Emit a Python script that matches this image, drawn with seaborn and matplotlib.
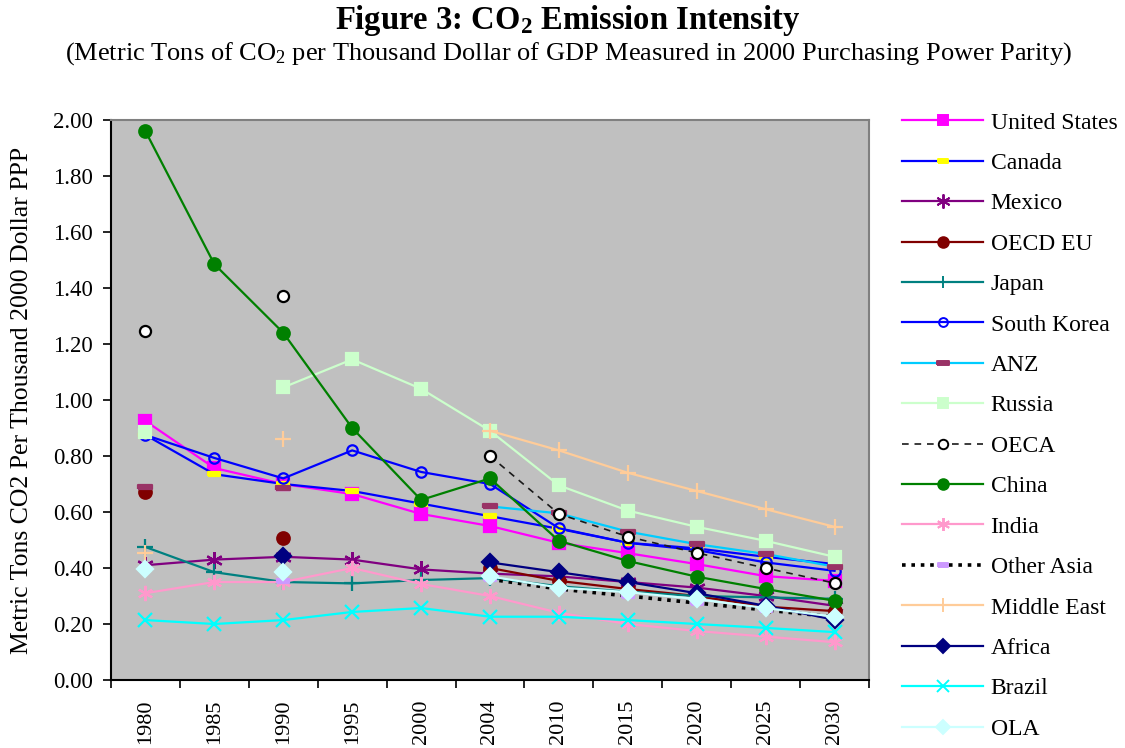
import matplotlib
matplotlib.use("Agg")
import matplotlib.pyplot as plt
import numpy as np
import pandas as pd
import seaborn as sns
from matplotlib.lines import Line2D

nan = np.nan

years = ["1980", "1985", "1990", "1995", "2000", "2004",
         "2010", "2015", "2020", "2025", "2030"]

united_states = [0.925, 0.757, 0.70, 0.664, 0.593, 0.55, 0.49, 0.453, 0.414, 0.371, 0.354]
canada = [0.875, 0.735, 0.70, 0.675, 0.63, 0.585, 0.54, 0.49, 0.47, 0.44, 0.414]
mexico = [0.41, 0.43, 0.44, 0.43, 0.395, 0.38, 0.37, 0.35, 0.33, 0.30, 0.265]
oecd_eu = [0.67, nan, 0.507, nan, nan, 0.40, 0.354, 0.325, 0.30, 0.262, 0.246]
japan = [0.475, 0.385, 0.35, 0.345, 0.357, 0.364, 0.335, 0.315, 0.30, 0.295, 0.29]
south_korea = [0.875, 0.793, 0.72, 0.82, 0.743, 0.70, 0.542, 0.49, 0.464, 0.42, 0.39]
anz = [0.69, nan, 0.685, nan, nan, 0.62, 0.595, 0.53, 0.485, 0.45, 0.405]
russia = [0.886, nan, 1.045, 1.145, 1.04, 0.89, 0.695, 0.605, 0.547, 0.497, 0.44]
oeca = [1.245, nan, 1.37, nan, nan, 0.80, 0.593, 0.512, 0.454, 0.40, 0.346]
china = [1.96, 1.485, 1.24, 0.90, 0.643, 0.72, 0.497, 0.425, 0.369, 0.325, 0.283]
india = [0.31, 0.35, 0.35, 0.40, 0.343, 0.30, 0.24, 0.20, 0.175, 0.155, 0.135]
other_asia = [nan, nan, 0.354, nan, nan, 0.36, 0.325, 0.30, 0.275, 0.25, 0.225]
middle_east = [0.453, nan, 0.862, nan, nan, 0.89, 0.82, 0.74, 0.675, 0.61, 0.547]
africa = [nan, nan, 0.443, nan, nan, 0.42, 0.385, 0.35, 0.31, 0.265, 0.215]
brazil = [0.214, 0.20, 0.214, 0.243, 0.257, 0.226, 0.226, 0.214, 0.20, 0.186, 0.171]
ola = [0.395, nan, 0.385, nan, nan, 0.37, 0.33, 0.314, 0.289, 0.257, 0.226]

series_names = ["United States", "Canada", "Mexico", "OECD EU", "Japan",
                "South Korea", "ANZ", "Russia", "OECA", "China", "India",
                "Other Asia", "Middle East", "Africa", "Brazil", "OLA"]
series_values = [united_states, canada, mexico, oecd_eu, japan, south_korea,
                 anz, russia, oeca, china, india, other_asia, middle_east,
                 africa, brazil, ola]

# dash-shaped marker like the Excel one
dash = [(-1, -0.3), (1, -0.3), (1, 0.3), (-1, 0.3), (-1, -0.3)]
asterisk = (6, 2, 0)

# name: (line color, linestyle, marker, marker size, face, edge)
styles = {
    "United States": ("#FF00FF", "-", "s", 8.5, "#FF00FF", "#FF00FF"),
    "Canada": ("#0000FF", "-", dash, 9, "#FFFF00", "#FFFF00"),
    "Mexico": ("#800080", "-", asterisk, 12, "#800080", "#800080"),
    "OECD EU": ("#800000", "-", "o", 9, "#800000", "#800000"),
    "Japan": ("#008080", "-", "+", 11, "#008080", "#008080"),
    "South Korea": ("#0000FF", "-", "o", 7.5, "none", "#0000FF"),
    "ANZ": ("#00CCFF", "-", dash, 10, "#993366", "#993366"),
    "Russia": ("#CCFFCC", "-", "s", 8.5, "#CCFFCC", "#CCFFCC"),
    "OECA": ("#1a1a1a", (0, (4, 3.5)), "o", 8, "white", "black"),
    "China": ("#008000", "-", "o", 9, "#008000", "#008000"),
    "India": ("#FF99CC", "-", asterisk, 11, "#FF99CC", "#FF99CC"),
    "Other Asia": ("black", (0, (1.0, 1.6)), dash, 9, "#CC99FF", "#CC99FF"),
    "Middle East": ("#FFCC99", "-", "+", 12, "#FFCC99", "#FFCC99"),
    "Africa": ("#000080", "-", "D", 8, "#000080", "#000080"),
    "Brazil": ("#00FFFF", "-", "x", 10, "#00FFFF", "#00FFFF"),
    "OLA": ("#CCFFFF", "-", "D", 8, "#CCFFFF", "#CCFFFF"),
}

plt.rcParams["font.family"] = ["Liberation Serif", "DejaVu Serif"]
plt.rcParams["mathtext.fontset"] = "custom"
plt.rcParams["mathtext.rm"] = "Liberation Serif"
plt.rcParams["mathtext.bf"] = "Liberation Serif:bold"
plt.rcParams["mathtext.default"] = "regular"

fig = plt.figure(figsize=(11.25, 7.48), dpi=100)
ax = fig.add_axes([111 / 1125, 1 - 680 / 748, 758 / 1125, 560 / 748])
ax.set_facecolor("#C0C0C0")

handles = []
for name, vals in zip(series_names, series_values):
    color, ls, marker, ms, fc, ec = styles[name]
    v = np.array(vals, dtype=float)
    valid = ~np.isnan(v)
    # split into contiguous runs so gaps stay open
    seg = np.cumsum(np.r_[True, valid[1:] != valid[:-1]])
    df = pd.DataFrame({"pos": np.arange(len(years)), "value": v, "seg": seg})
    df = df[valid]
    lw = 2.6 if name == "Other Asia" else (1.2 if name == "OECA" else 1.6)
    sns.lineplot(data=df, x="pos", y="value", units="seg", estimator=None,
                 sort=False, ax=ax, color=color, linestyle=ls, linewidth=lw,
                 marker=marker, markersize=ms, markerfacecolor=fc,
                 markeredgecolor=ec, markeredgewidth=1.6, legend=False)
    handles.append(Line2D([], [], color=color, linestyle=ls, linewidth=lw,
                          marker=marker, markersize=ms * 0.85,
                          markerfacecolor=fc, markeredgecolor=ec,
                          markeredgewidth=1.4))

ax.set_xlim(-0.5, len(years) - 0.5)
ax.set_ylim(0, 2.0)
ax.set_yticks(np.arange(0, 2.01, 0.2))
ax.set_yticklabels([f"{t:.2f}" for t in np.arange(0, 2.01, 0.2)])
ax.set_xticks(range(len(years)))
ax.set_xticklabels(years, rotation=90)
ax.set_xticks(np.arange(-0.5, len(years), 1), minor=True)
ax.tick_params(axis="x", which="major", length=0, pad=14, labelsize=16)
ax.tick_params(axis="x", which="minor", length=6, width=1.2, direction="out")
ax.tick_params(axis="y", which="major", length=6, width=1.2, pad=7, labelsize=16.5)
ax.set_xlabel("")
ax.set_ylabel("Metric Tons CO2 Per Thousand 2000 Dollar PPP", fontsize=18.5,
              labelpad=14)
for side in ["top", "right"]:
    ax.spines[side].set_color("#808080")
    ax.spines[side].set_linewidth(1.5)
for side in ["left", "bottom"]:
    ax.spines[side].set_color("black")
    ax.spines[side].set_linewidth(1.5)

fig.text(0.505, 0.972, "Figure 3: CO$_2$ Emission Intensity", ha="center",
         va="center", fontsize=23.5, fontweight="bold")
fig.text(0.505, 0.928, "(Metric Tons of CO$_2$ per Thousand Dollar of GDP "
         "Measured in 2000 Purchasing Power Parity)", ha="center",
         va="center", fontsize=19)

fig.legend(handles, series_names, loc="upper left",
           bbox_to_anchor=(902 / 1125, 1 - 112 / 748), frameon=False,
           fontsize=17, handlelength=3.45, handletextpad=0.3,
           labelspacing=0.8, borderpad=0, borderaxespad=0)

fig.savefig("out.png", dpi=100)
